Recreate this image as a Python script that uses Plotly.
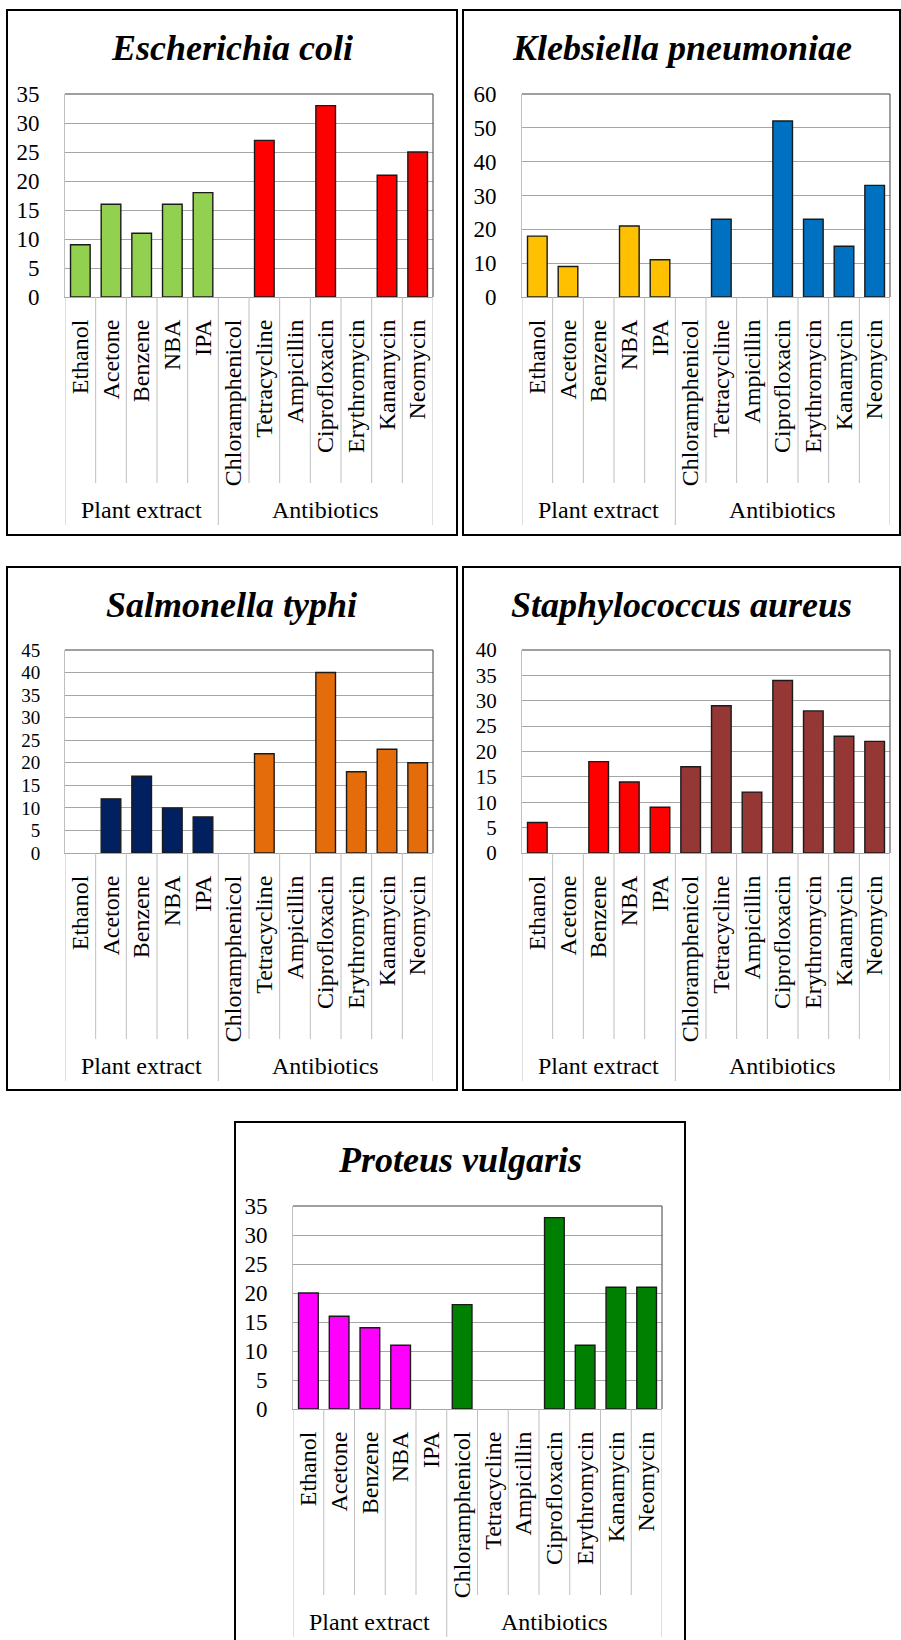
import plotly.graph_objects as go

# Categories
plant_extracts = ["Ethanol", "Acetone", "Benzene", "NBA", "IPA"]
antibiotics = ["Chloramphenicol", "Tetracycline", "Ampicillin", "Ciprofloxacin",
               "Erythromycin", "Kanamycin", "Neomycin"]
group_labels = ["Plant extract", "Antibiotics"]

# Zone of inhibition values per organism (plant extracts then antibiotics)
ecoli = [9, 16, 11, 16, 18, 0, 27, 0, 33, 0, 21, 25]
kpneumoniae = [18, 9, 0, 21, 11, 0, 23, 0, 52, 23, 15, 33]
styphi = [0, 12, 17, 10, 8, 0, 22, 0, 40, 18, 23, 20]
saureus = [6, 0, 18, 14, 9, 17, 29, 12, 34, 28, 23, 22]
pvulgaris = [20, 16, 14, 11, 0, 18, 0, 0, 33, 11, 21, 21]

organisms = ["Escherichia coli", "Klebsiella pneumoniae", "Salmonella typhi",
             "Staphylococcus aureus", "Proteus vulgaris"]
series = [ecoli, kpneumoniae, styphi, saureus, pvulgaris]
y_max = [35, 60, 45, 40, 35]
y_step = [5, 10, 5, 5, 5]
plant_colors = ["#92D050", "#FFC000", "#002060", "#FF0000", "#FF00FF"]
antibiotic_colors = ["#FF0000", "#0070C0", "#E46C0A", "#953735", "#008000"]

W, H = 901, 1640
FONT = "Liberation Serif"

# Panel geometry in pixels: frame box, plot x-extent, plot top and zero baseline
panels = [
    dict(frame=(7, 10, 457, 535), px=(65, 433), top=94, zero=297),
    dict(frame=(463, 10, 900, 535), px=(522, 890), top=94, zero=297),
    dict(frame=(7, 567, 457, 1090), px=(65, 433), top=650, zero=853),
    dict(frame=(463, 567, 900, 1090), px=(522, 890), top=650, zero=853),
    dict(frame=(235, 1122, 685, 1647), px=(293, 662), top=1206, zero=1409),
]


def fx(px):
    return px / W


def fy(py):
    return 1 - py / H


categories = plant_extracts + antibiotics
n_plant = len(plant_extracts)
n_cat = len(categories)

fig = go.Figure()
shapes = []
annotations = []
layout_axes = {}

for k, (name, vals, pan) in enumerate(zip(organisms, series, panels)):
    idx = "" if k == 0 else str(k + 1)
    xname, yname = "x" + idx, "y" + idx
    colors = [plant_colors[k]] * n_plant + [antibiotic_colors[k]] * (n_cat - n_plant)
    line_w = [1.4 if v > 0 else 0 for v in vals]
    fig.add_trace(go.Bar(
        x=categories, y=vals, xaxis=xname, yaxis=yname,
        marker=dict(color=colors, line=dict(color="#1a1a1a", width=line_w)),
        width=0.64, showlegend=False, hoverinfo="x+y",
    ))

    # Tick label size shrinks a little on the more densely ticked axes
    n_ticks = y_max[k] // y_step[k]
    ytick_size = 23 if n_ticks <= 7 else (21 if n_ticks == 8 else 19)

    x0p, x1p = pan["px"]
    layout_axes["xaxis" + idx] = dict(
        domain=[fx(x0p), fx(x1p)], anchor=yname, type="category",
        categoryorder="array", categoryarray=categories,
        range=[-0.5, n_cat - 0.5],
        tickangle=-90, tickfont=dict(family=FONT, size=24, color="#000000"),
        ticks="", ticklabelstandoff=12, showgrid=False, zeroline=False,
        showline=True, linecolor="#a6a6a6", linewidth=1, automargin=False,
        fixedrange=True,
    )
    layout_axes["yaxis" + idx] = dict(
        domain=[fy(pan["zero"]), fy(pan["top"])], anchor=xname,
        range=[0, y_max[k]], tick0=0, dtick=y_step[k],
        tickfont=dict(family=FONT, size=ytick_size, color="#000000"),
        ticks="", ticklabelstandoff=20, showgrid=True, gridcolor="#a6a6a6",
        gridwidth=1, zeroline=False, showline=True, linecolor="#bfbfbf",
        linewidth=1, automargin=False, fixedrange=True,
    )

    # Outer frame of the panel
    fl, ft, fr, fb = pan["frame"]
    shapes.append(dict(type="rect", xref="paper", yref="paper",
                       x0=fx(fl), x1=fx(fr), y0=fy(fb), y1=fy(ft),
                       line=dict(color="#000000", width=2), layer="below"))

    # Darker top and right edges of the plot area
    shapes.append(dict(type="line", xref=xname + " domain", yref=yname + " domain",
                       x0=0, x1=1, y0=1, y1=1, line=dict(color="#404040", width=1)))
    shapes.append(dict(type="line", xref=xname + " domain", yref=yname + " domain",
                       x0=1, x1=1, y0=0, y1=1, line=dict(color="#404040", width=1)))

    # Dividers under the category axis
    for i in range(n_cat + 1):
        boundary = i - 0.5
        is_group = i in (0, n_plant, n_cat)
        bottom = pan["zero"] + (228 if is_group else 186)
        shapes.append(dict(type="line", xref=xname, yref="paper",
                           x0=boundary, x1=boundary,
                           y0=fy(pan["zero"]), y1=fy(bottom),
                           line=dict(color="#bfbfbf", width=1)))

    # Group labels
    group_centers = [(n_plant - 1) / 2, n_plant + (n_cat - n_plant - 1) / 2]
    for g, c in zip(group_labels, group_centers):
        annotations.append(dict(text=g, xref=xname, yref="paper", x=c,
                                y=fy(pan["zero"] + 213), showarrow=False,
                                xanchor="center", yanchor="middle",
                                font=dict(family=FONT, size=24, color="#000000")))

    # Panel title
    annotations.append(dict(text=name, xref="paper", yref="paper",
                            x=fx((fl + fr) / 2), y=fy(ft + 38), showarrow=False,
                            xanchor="center", yanchor="middle",
                            font=dict(family=FONT, size=36, color="#000000",
                                      weight="bold", style="italic")))

fig.update_layout(
    width=W, height=H,
    margin=dict(l=0, r=0, t=0, b=0, pad=0),
    paper_bgcolor="#ffffff", plot_bgcolor="#ffffff",
    bargap=0.36, shapes=shapes, annotations=annotations,
    **layout_axes,
)

fig.write_html("out.html")
